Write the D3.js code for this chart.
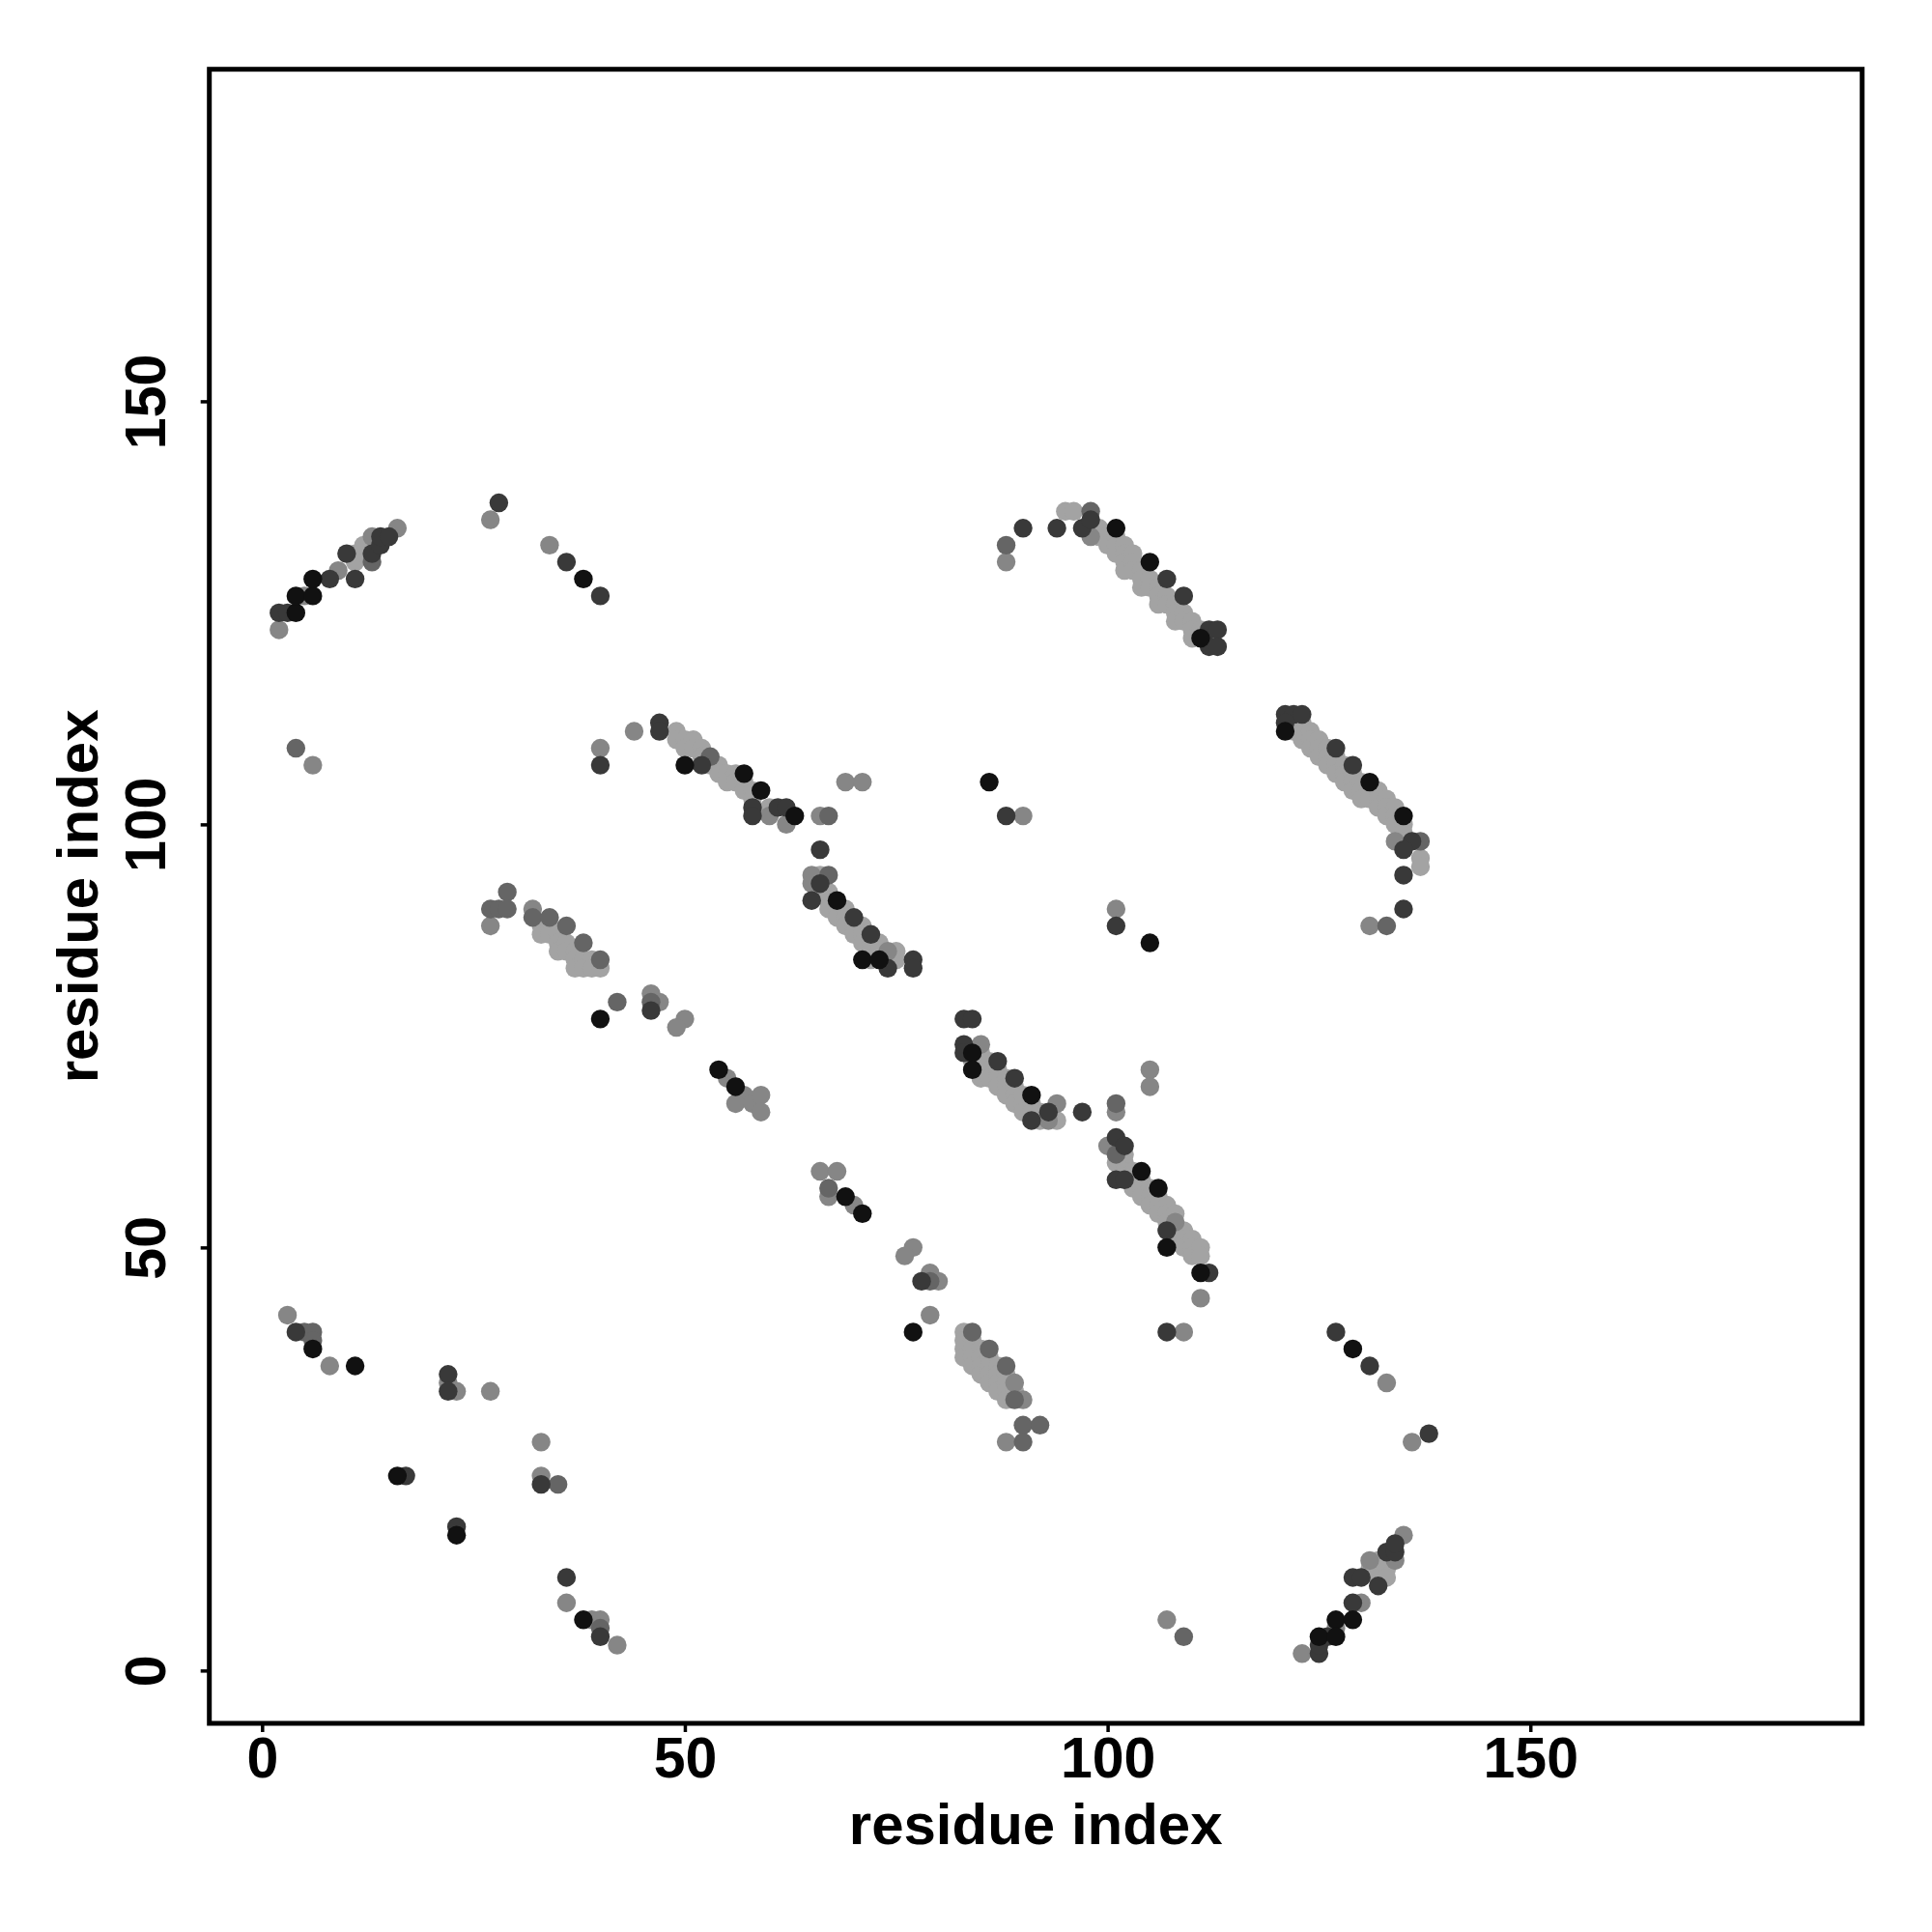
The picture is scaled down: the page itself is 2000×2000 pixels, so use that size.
<!DOCTYPE html>
<html>
<head>
<meta charset="utf-8">
<script src="https://cdn.jsdelivr.net/npm/d3@7"></script>
<style>
  body { margin: 0; background: #fff; }
  text { font-family: "Liberation Sans", Arial, Helvetica, sans-serif; font-weight: bold; }
</style>
</head>
<body>
<div id="chart"></div>
<script>
// contact pairs [residue i, residue j], grouped by shade
const blackPts = [
  [4,125],[4,127],[6,127],[6,129],[38,129],
  [50,107],[57,106],[59,104],[63,101],[68,91],[71,84],[73,84],
  [40,77],[54,71],[56,69],
  [84,73],[84,71],[91,68],
  [104,59],[106,57],[107,50],[111,47],
  [101,135],[105,131],[111,122],
  [86,105],[105,86],
  [121,111],[131,105],[135,101],
  [6,38],[11,36],[16,23],[23,16],[38,6],
  [69,56],[71,54],[77,40],
  [129,38],[125,4],[127,6],[127,4],[129,6]
];

const darkPts = [
  [2,125],[3,125],[8,129],[10,132],[11,129],[13,132],[14,133],[14,134],[15,134],
  [28,138],[36,131],[40,127],[40,107],
  [47,112],[47,111],[52,107],[58,102],[58,101],[61,102],[62,102],[66,97],[66,93],[65,91],[70,89],[72,87],[77,84],[77,83],[74,83],
  [46,78],
  [83,77],[84,77],[83,74],[83,73],[87,72],[89,70],[91,65],[93,66],[97,66],
  [101,63],[102,62],[101,58],[102,58],[107,52],[112,47],
  [90,135],[94,135],[97,135],[98,136],[107,129],[109,127],[112,123],[113,123],[112,121],[113,121],
  [88,101],[101,88],
  [121,113],[122,113],[123,113],[121,112],[127,109],[129,107],[136,98],[135,97],[135,94],[135,90],
  [4,40],[22,35],[22,33],[33,22],[17,23],[23,17],[36,11],[40,4],
  [78,46],
  [107,40],[127,40],[131,36],[138,28],[125,2],[125,3],[126,4],[129,8],[129,11],[130,11],[132,10],[133,14],[134,14],[134,15]
];

const midPts = [
  [13,131],[4,109],
  [53,108],[67,101],[67,94],
  [29,92],[27,90],[28,90],[29,90],[32,89],[34,89],[36,88],[38,86],[40,84],[42,79],[46,79],
  [101,67],[101,61],
  [88,133],[98,137],
  [137,98],[133,88],
  [5,40],[6,40],[6,39],[35,22],[40,5],
  [79,46],[84,40],[86,38],[88,36],[89,32],[90,29],[92,29],[90,27],[67,57],
  [109,4]
];

const grayPts = [
  [2,123],[5,127],[9,130],[13,134],[16,135],
  [27,136],[34,133],[6,107],[40,109],[44,111],
  [60,101],[62,100],[66,101],[69,105],[71,105],[65,94],[65,93],[74,85],
  [27,88],[32,90],[46,80],[47,79],[50,77],[49,76],[55,70],[57,68],[56,67],[58,67],[59,68],[59,66],
  [85,74],[94,67],[93,65],[101,66],[105,71],[105,69],
  [100,62],[108,53],[111,44],
  [88,131],[98,134],
  [90,101],[101,90],
  [134,98],[131,88],
  [3,42],[8,36],[22,34],[23,33],[27,33],[33,27],[33,23],[36,8],[39,6],[40,6],[42,3],
  [66,59],[68,59],[67,56],[70,55],[77,50],[76,49],[79,47],[80,46],[79,42],[88,27],[89,34],[90,32],
  [109,40],[133,34],[136,27],[107,6],[123,2],[127,5],[130,8],[131,13],[134,13],[135,16]
];

const lightPts = [
  [11,131],[11,132],[12,132],[12,133],
  [49,111],[49,110],[50,110],[50,109],[51,110],[51,109],[52,109],[52,108],
  [53,107],[54,107],[54,106],[55,106],[55,105],[56,106],[56,105],[57,105],[57,104],[58,104],[58,103],[60,102],
  [66,94],[66,92],[67,92],[67,91],[67,90],[68,90],[68,89],[69,90],[69,89],[69,88],[70,88],[70,87],
  [71,88],[71,87],[71,86],[72,86],[72,85],[73,86],[73,85],[72,84],[74,84],[75,85],[75,84],
  [33,88],[33,87],[34,88],[34,87],[35,87],[35,86],[35,85],[36,86],[36,85],[37,85],[37,84],[37,83],
  [38,84],[38,83],[39,84],[39,83],[40,83],
  [84,72],[85,73],[85,72],[85,71],[85,70],[86,72],[86,71],[86,70],[87,71],[87,70],[87,69],
  [88,70],[88,69],[88,68],[89,69],[89,68],[89,67],[90,68],[90,67],[90,66],[91,67],[91,66],[92,66],[92,65],[94,65],
  [101,60],[102,61],[102,60],[102,59],[103,59],[103,58],[103,57],[104,58],[104,57],[104,56],[105,57],[105,56],
  [105,55],[106,56],[106,55],[106,54],[107,55],[107,54],[107,53],[108,54],[108,52],[108,51],[109,52],[109,51],
  [109,50],[110,51],[110,50],[110,49],[111,50],[111,49],
  [95,137],[96,137],[99,135],[99,134],[100,134],[100,133],[101,134],[101,133],[101,132],[102,133],[102,132],
  [102,131],[102,130],[103,132],[103,131],[103,130],[104,130],[104,129],[104,128],[105,129],[105,128],
  [106,128],[106,127],[106,126],[107,127],[107,126],[108,126],[108,125],[108,124],[109,125],[109,124],
  [110,124],[110,123],[110,122],[111,123],
  [122,112],[122,111],[123,112],[123,111],[123,110],[124,111],[124,110],[124,109],[125,110],[125,109],
  [125,108],[126,109],[126,108],[126,107],[127,108],[127,107],[127,106],[128,107],[128,106],[128,105],
  [129,106],[129,105],[129,104],[130,105],[130,104],[130,103],[131,104],[131,103],[132,104],[132,103],
  [132,102],[133,103],[133,102],[133,101],[134,102],[134,101],[134,100],[135,100],[135,99],
  [135,98],[137,96],[137,95],
  [83,40],[83,39],[83,38],[83,37],[84,39],[84,38],[84,37],[84,36],[85,38],[85,37],[85,36],[85,35],
  [86,37],[86,36],[86,35],[86,34],[87,36],[87,35],[87,34],[87,33],[88,35],[88,34],[88,33],[88,32],[89,33],
  [131,12],[132,12],[132,11],[133,12],[133,11],[133,13],[132,13]
];

const xTicks = [0, 50, 100, 150];
const yTicks = [0, 50, 100, 150];
const axisRange = [-6.24, 189.24];
const xTitle = "residue index";
const yTitle = "residue index";

const width = 2000, height = 2000;
const plot = {left: 216.7, right: 1927.7, top: 71.7, bottom: 1784};
const fontSize = 59;

const svg = d3.select("#chart").append("svg")
  .attr("width", width)
  .attr("height", height)
  .style("background", "#fff");

const x = d3.scaleLinear().domain(axisRange).range([plot.left, plot.right]);
const y = d3.scaleLinear().domain(axisRange).range([plot.bottom, plot.top]);

// points, lightest drawn first
const layers = [
  {pts: lightPts, color: "#a3a3a3"},
  {pts: grayPts, color: "#868686"},
  {pts: midPts, color: "#656565"},
  {pts: darkPts, color: "#393939"},
  {pts: blackPts, color: "#111111"}
];

layers.forEach(layer => {
  svg.append("g").selectAll("circle")
    .data(layer.pts).enter()
    .append("circle")
    .attr("cx", d => x(d[0]))
    .attr("cy", d => y(d[1]))
    .attr("r", 9.7)
    .attr("fill", layer.color);
});

// frame
svg.append("rect")
  .attr("x", plot.left)
  .attr("y", plot.top)
  .attr("width", plot.right - plot.left)
  .attr("height", plot.bottom - plot.top)
  .attr("fill", "none")
  .attr("stroke", "#000")
  .attr("stroke-width", 5);

// x axis
const gx = svg.append("g")
  .attr("transform", `translate(0,${plot.bottom})`)
  .call(d3.axisBottom(x).tickValues(xTicks).tickSize(9).tickPadding(7).tickSizeOuter(0));
gx.select(".domain").remove();
gx.selectAll("line").attr("stroke", "#000").attr("stroke-width", 3.5);
gx.selectAll("text")
  .attr("y", 56)
  .attr("dy", null)
  .attr("fill", "#000")
  .style("font-size", fontSize + "px");

// y axis, labels rotated like base R
const gy = svg.append("g")
  .attr("transform", `translate(${plot.left},0)`)
  .call(d3.axisLeft(y).tickValues(yTicks).tickSize(9).tickSizeOuter(0));
gy.select(".domain").remove();
gy.selectAll("line").attr("stroke", "#000").attr("stroke-width", 3.5);
gy.selectAll("text")
  .attr("x", null)
  .attr("dy", null)
  .attr("transform", "translate(-46,0) rotate(-90)")
  .attr("text-anchor", "middle")
  .attr("fill", "#000")
  .style("font-size", fontSize + "px");

// axis titles
svg.append("text")
  .attr("x", (plot.left + plot.right) / 2)
  .attr("y", 1909)
  .attr("text-anchor", "middle")
  .style("font-size", "60px")
  .text(xTitle);

svg.append("text")
  .attr("transform", `translate(101,${(plot.top + plot.bottom) / 2}) rotate(-90)`)
  .attr("text-anchor", "middle")
  .style("font-size", "60px")
  .text(yTitle);
</script>
</body>
</html>
